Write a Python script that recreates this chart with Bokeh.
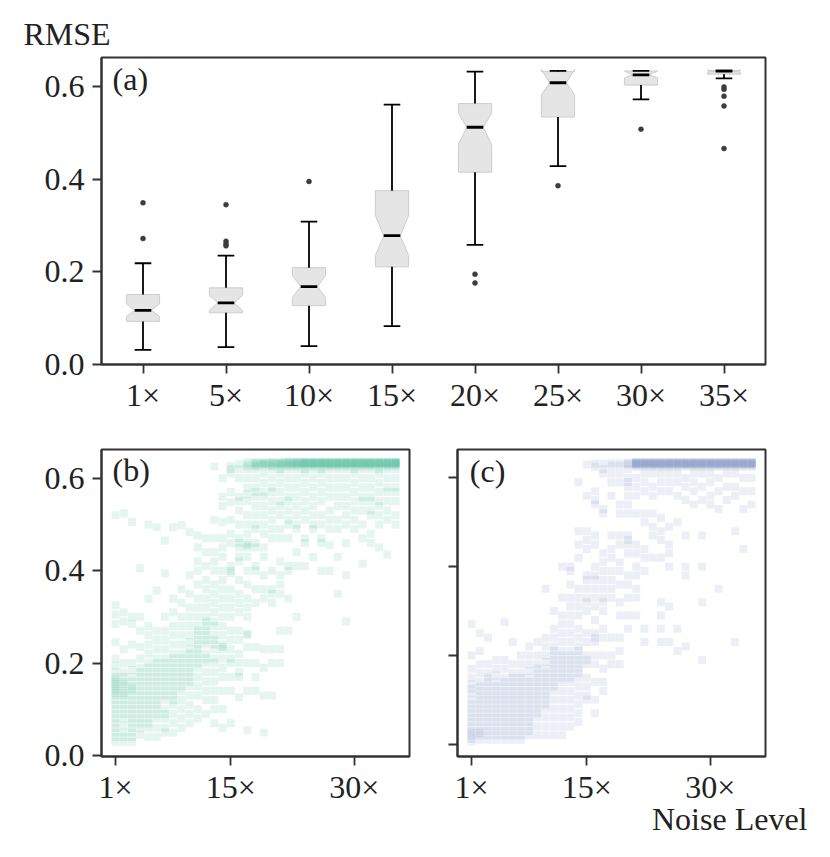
from bokeh.plotting import figure
from bokeh.models import Range1d, FixedTicker, Label, Title, PrintfTickFormatter
from bokeh.layouts import column, row
from bokeh.embed import file_html
from bokeh.resources import INLINE

FONT = "Liberation Serif"
FSIZE = "32px"
INK = "#222222"
SPINE = "#333333"

# ---------------- panel (a): notched box plots ----------------
box_labels = ["1×", "5×", "10×", "15×", "20×", "25×", "30×", "35×"]
box_q1 = [0.093, 0.1115, 0.127, 0.2107, 0.415, 0.534, 0.603, 0.6265]
box_med = [0.117, 0.133, 0.168, 0.278, 0.512, 0.608, 0.625, 0.633]
box_q3 = [0.151, 0.1654, 0.209, 0.375, 0.563, 0.632, 0.6335, 0.634]
box_notch_lo = [0.1035, 0.116, 0.145, 0.235, 0.4745, 0.582, 0.6185, 0.631]
box_notch_hi = [0.131, 0.149, 0.192, 0.321, 0.542, 0.637, 0.6335, 0.635]
whisk_lo = [0.0316, 0.0374, 0.0395, 0.0826, 0.258, 0.428, 0.572, 0.6176]
whisk_hi = [0.2185, 0.235, 0.3085, 0.561, 0.632, 0.6335, 0.6335, 0.634]
outlier_box = [0, 0, 1, 1, 1, 1, 2, 4, 4, 5, 6, 7, 7, 7, 7, 7]
outlier_val = [0.349, 0.272, 0.345, 0.266, 0.260, 0.256, 0.395, 0.195, 0.176,
               0.386, 0.5076, 0.599, 0.594, 0.579, 0.558, 0.466]

# ---------------- panels (b), (c): RMSE per noise level ----------------
noise_levels = list(range(1, 36))
bottom_tick_levels = [1, 15, 30]
bottom_tick_labels = ["1×", "15×", "30×"]
rmse_ticks = [0.0, 0.2, 0.4, 0.6]

b_rmse = [
    [0.52, 0.325, 0.305, 0.285, 0.245, 0.21, 0.195, 0.18, 0.17, 0.165, 0.16, 0.155, 0.15, 0.145, 0.14, 0.135, 0.13, 0.12, 0.11, 0.10, 0.09, 0.08, 0.07, 0.06, 0.05, 0.04, 0.03],
    [0.524, 0.31, 0.29, 0.23, 0.2, 0.18, 0.17, 0.16, 0.155, 0.15, 0.14, 0.135, 0.13, 0.12, 0.11, 0.1, 0.09, 0.08, 0.065, 0.05, 0.04, 0.03],
    [0.505, 0.3, 0.285, 0.24, 0.2, 0.185, 0.17, 0.16, 0.15, 0.145, 0.14, 0.13, 0.12, 0.11, 0.1, 0.09, 0.08, 0.07, 0.06, 0.05, 0.04, 0.03],
    [0.405, 0.3, 0.27, 0.235, 0.21, 0.19, 0.18, 0.17, 0.16, 0.15, 0.14, 0.13, 0.12, 0.11, 0.1, 0.09, 0.08, 0.07, 0.06, 0.045],
    [0.50, 0.339, 0.28, 0.26, 0.24, 0.22, 0.2, 0.19, 0.18, 0.17, 0.16, 0.15, 0.14, 0.13, 0.12, 0.11, 0.1, 0.09, 0.08, 0.07, 0.06, 0.04],
    [0.494, 0.357, 0.27, 0.25, 0.23, 0.21, 0.2, 0.19, 0.18, 0.17, 0.16, 0.15, 0.14, 0.13, 0.12, 0.11, 0.1, 0.09, 0.08, 0.06, 0.04],
    [0.465, 0.394, 0.3, 0.27, 0.25, 0.23, 0.21, 0.2, 0.19, 0.18, 0.17, 0.16, 0.15, 0.14, 0.13, 0.12, 0.1, 0.09, 0.08, 0.06, 0.05],
    [0.494, 0.34, 0.31, 0.28, 0.26, 0.24, 0.22, 0.21, 0.2, 0.19, 0.18, 0.17, 0.16, 0.15, 0.14, 0.13, 0.12, 0.11, 0.09, 0.07, 0.05],
    [0.498, 0.36, 0.33, 0.3, 0.28, 0.26, 0.24, 0.22, 0.21, 0.2, 0.19, 0.18, 0.17, 0.16, 0.15, 0.14, 0.12, 0.1, 0.08, 0.06],
    [0.483, 0.39, 0.35, 0.32, 0.3, 0.28, 0.26, 0.245, 0.23, 0.22, 0.21, 0.2, 0.19, 0.18, 0.17, 0.16, 0.15, 0.13, 0.11, 0.09, 0.07],
    [0.476, 0.45, 0.42, 0.4, 0.37, 0.34, 0.32, 0.3, 0.28, 0.27, 0.26, 0.25, 0.24, 0.23, 0.22, 0.21, 0.2, 0.19, 0.17, 0.15, 0.13, 0.1, 0.08],
    [0.47, 0.44, 0.41, 0.38, 0.36, 0.34, 0.32, 0.3, 0.29, 0.28, 0.27, 0.26, 0.25, 0.24, 0.22, 0.21, 0.2, 0.18, 0.16, 0.14, 0.12, 0.09],
    [0.625, 0.51, 0.47, 0.44, 0.42, 0.4, 0.37, 0.35, 0.33, 0.31, 0.29, 0.28, 0.26, 0.25, 0.24, 0.23, 0.21, 0.2, 0.18, 0.16, 0.14, 0.12, 0.1, 0.07],
    [0.6, 0.56, 0.54, 0.505, 0.47, 0.45, 0.43, 0.4, 0.38, 0.36, 0.34, 0.32, 0.3, 0.28, 0.26, 0.24, 0.235, 0.23, 0.21, 0.19, 0.17, 0.14, 0.1, 0.06],
    [0.626, 0.62, 0.61, 0.57, 0.548, 0.51, 0.48, 0.46, 0.41, 0.4, 0.395, 0.36, 0.34, 0.32, 0.3, 0.27, 0.25, 0.23, 0.21, 0.2, 0.17, 0.14, 0.07],
    [0.63, 0.62, 0.6, 0.56, 0.55, 0.53, 0.5, 0.47, 0.46, 0.45, 0.43, 0.42, 0.38, 0.35, 0.33, 0.31, 0.27, 0.25, 0.22, 0.2, 0.18, 0.17, 0.126],
    [0.635, 0.63, 0.625, 0.62, 0.6, 0.58, 0.565, 0.55, 0.52, 0.5, 0.48, 0.46, 0.455, 0.45, 0.43, 0.4, 0.37, 0.34, 0.32, 0.3, 0.264, 0.26, 0.235, 0.2, 0.14, 0.055],
    [0.635, 0.633, 0.632, 0.63, 0.628, 0.625, 0.62, 0.6, 0.58, 0.57, 0.56, 0.54, 0.52, 0.5, 0.49, 0.46, 0.45, 0.41, 0.4, 0.36, 0.33, 0.235, 0.2, 0.17, 0.14],
    [0.635, 0.633, 0.632, 0.631, 0.63, 0.628, 0.625, 0.61, 0.59, 0.57, 0.56, 0.54, 0.52, 0.5, 0.48, 0.45, 0.43, 0.39, 0.36, 0.34, 0.23, 0.19, 0.13, 0.05],
    [0.635, 0.634, 0.633, 0.632, 0.63, 0.628, 0.625, 0.62, 0.6, 0.58, 0.57, 0.55, 0.53, 0.51, 0.49, 0.47, 0.4, 0.36, 0.35, 0.33, 0.23, 0.2, 0.13],
    [0.635, 0.634, 0.633, 0.632, 0.631, 0.63, 0.628, 0.625, 0.62, 0.61, 0.59, 0.57, 0.55, 0.54, 0.52, 0.49, 0.47, 0.42, 0.39, 0.37, 0.35, 0.27, 0.23, 0.2],
    [0.636, 0.635, 0.634, 0.633, 0.632, 0.631, 0.63, 0.628, 0.625, 0.62, 0.6, 0.58, 0.56, 0.55, 0.53, 0.51, 0.5, 0.47, 0.41, 0.4, 0.34, 0.27],
    [0.636, 0.635, 0.634, 0.633, 0.633, 0.632, 0.631, 0.63, 0.628, 0.625, 0.62, 0.6, 0.58, 0.56, 0.54, 0.52, 0.5, 0.49, 0.44, 0.41, 0.3],
    [0.636, 0.635, 0.634, 0.634, 0.633, 0.633, 0.632, 0.632, 0.631, 0.63, 0.628, 0.625, 0.62, 0.61, 0.59, 0.57, 0.55, 0.53, 0.51, 0.47, 0.46, 0.41],
    [0.636, 0.635, 0.634, 0.634, 0.633, 0.633, 0.632, 0.632, 0.631, 0.63, 0.628, 0.625, 0.62, 0.6, 0.58, 0.56, 0.54, 0.52, 0.5, 0.49, 0.43],
    [0.636, 0.635, 0.634, 0.634, 0.633, 0.633, 0.632, 0.632, 0.631, 0.63, 0.628, 0.625, 0.62, 0.61, 0.59, 0.57, 0.55, 0.52, 0.5, 0.47, 0.46, 0.4],
    [0.636, 0.635, 0.634, 0.634, 0.633, 0.633, 0.632, 0.632, 0.631, 0.63, 0.628, 0.625, 0.62, 0.6, 0.58, 0.56, 0.53, 0.51, 0.49, 0.455, 0.4],
    [0.636, 0.635, 0.634, 0.634, 0.633, 0.633, 0.632, 0.632, 0.631, 0.63, 0.628, 0.625, 0.62, 0.6, 0.58, 0.56, 0.54, 0.51, 0.49, 0.43, 0.35],
    [0.636, 0.635, 0.634, 0.634, 0.633, 0.633, 0.632, 0.632, 0.631, 0.63, 0.628, 0.625, 0.62, 0.6, 0.58, 0.56, 0.54, 0.52, 0.5, 0.46, 0.39, 0.29],
    [0.636, 0.635, 0.634, 0.634, 0.633, 0.633, 0.632, 0.632, 0.631, 0.63, 0.628, 0.625, 0.62, 0.61, 0.59, 0.57, 0.55, 0.53, 0.51, 0.49],
    [0.636, 0.635, 0.634, 0.634, 0.633, 0.633, 0.632, 0.632, 0.631, 0.63, 0.628, 0.625, 0.62, 0.6, 0.58, 0.56, 0.55, 0.53, 0.5, 0.47, 0.415],
    [0.636, 0.635, 0.634, 0.634, 0.633, 0.633, 0.632, 0.632, 0.631, 0.63, 0.628, 0.625, 0.62, 0.6, 0.58, 0.56, 0.55, 0.53, 0.52, 0.48, 0.46],
    [0.636, 0.635, 0.634, 0.634, 0.633, 0.633, 0.632, 0.632, 0.631, 0.63, 0.628, 0.625, 0.62, 0.61, 0.59, 0.57, 0.55, 0.54, 0.52, 0.5, 0.45],
    [0.636, 0.635, 0.634, 0.634, 0.633, 0.633, 0.632, 0.632, 0.631, 0.63, 0.628, 0.625, 0.62, 0.6, 0.58, 0.57, 0.55, 0.53, 0.51, 0.435],
    [0.636, 0.635, 0.634, 0.634, 0.633, 0.633, 0.632, 0.632, 0.631, 0.63, 0.628, 0.625, 0.62, 0.6, 0.58, 0.57, 0.55, 0.52, 0.5],
]

c_rmse = [
    [0.27, 0.2, 0.17, 0.15, 0.135, 0.125, 0.115, 0.1, 0.09, 0.08, 0.07, 0.06, 0.05, 0.04, 0.03, 0.025, 0.02, 0.012, 0.006],
    [0.25, 0.21, 0.18, 0.16, 0.14, 0.13, 0.12, 0.11, 0.1, 0.09, 0.08, 0.07, 0.06, 0.05, 0.04, 0.03, 0.025, 0.02, 0.01],
    [0.24, 0.18, 0.16, 0.15, 0.14, 0.13, 0.12, 0.11, 0.1, 0.09, 0.08, 0.07, 0.06, 0.05, 0.04, 0.03, 0.02, 0.01],
    [0.19, 0.17, 0.155, 0.14, 0.13, 0.12, 0.11, 0.1, 0.09, 0.08, 0.07, 0.06, 0.05, 0.04, 0.03, 0.02, 0.01],
    [0.275, 0.19, 0.17, 0.15, 0.14, 0.13, 0.12, 0.11, 0.1, 0.09, 0.08, 0.07, 0.06, 0.05, 0.04, 0.03, 0.02, 0.01],
    [0.23, 0.18, 0.16, 0.15, 0.14, 0.13, 0.12, 0.11, 0.1, 0.09, 0.08, 0.07, 0.06, 0.05, 0.04, 0.03, 0.02, 0.01],
    [0.2, 0.18, 0.16, 0.15, 0.14, 0.13, 0.12, 0.11, 0.1, 0.09, 0.08, 0.07, 0.06, 0.05, 0.04, 0.03, 0.02, 0.01],
    [0.22, 0.2, 0.18, 0.165, 0.15, 0.14, 0.13, 0.12, 0.11, 0.1, 0.09, 0.08, 0.07, 0.06, 0.05, 0.04, 0.03, 0.02],
    [0.23, 0.2, 0.18, 0.17, 0.16, 0.15, 0.14, 0.13, 0.12, 0.11, 0.1, 0.09, 0.08, 0.07, 0.06, 0.04, 0.02],
    [0.35, 0.24, 0.22, 0.2, 0.185, 0.17, 0.16, 0.15, 0.14, 0.13, 0.12, 0.11, 0.1, 0.09, 0.08, 0.06, 0.04, 0.02],
    [0.3, 0.26, 0.24, 0.22, 0.21, 0.2, 0.19, 0.18, 0.17, 0.16, 0.15, 0.14, 0.13, 0.12, 0.1, 0.08, 0.06, 0.04, 0.02],
    [0.4, 0.33, 0.29, 0.27, 0.25, 0.23, 0.21, 0.2, 0.19, 0.18, 0.17, 0.16, 0.15, 0.14, 0.12, 0.1, 0.08, 0.06, 0.04, 0.02],
    [0.4, 0.39, 0.36, 0.33, 0.31, 0.29, 0.27, 0.25, 0.23, 0.21, 0.2, 0.19, 0.18, 0.17, 0.16, 0.15, 0.14, 0.12, 0.1, 0.08, 0.06, 0.04],
    [0.59, 0.48, 0.45, 0.42, 0.35, 0.33, 0.31, 0.29, 0.26, 0.24, 0.22, 0.21, 0.2, 0.19, 0.18, 0.17, 0.16, 0.15, 0.13, 0.11, 0.09, 0.07, 0.05],
    [0.63, 0.56, 0.48, 0.46, 0.44, 0.38, 0.37, 0.35, 0.33, 0.32, 0.3, 0.25, 0.23, 0.2, 0.19, 0.18, 0.15, 0.13, 0.11, 0.1],
    [0.632, 0.625, 0.57, 0.55, 0.54, 0.47, 0.45, 0.4, 0.38, 0.37, 0.35, 0.33, 0.31, 0.28, 0.25, 0.24, 0.23, 0.2, 0.18, 0.14, 0.1, 0.07],
    [0.632, 0.62, 0.61, 0.53, 0.52, 0.43, 0.41, 0.39, 0.37, 0.35, 0.33, 0.32, 0.3, 0.26, 0.24, 0.2, 0.17, 0.14, 0.12],
    [0.633, 0.628, 0.61, 0.59, 0.56, 0.47, 0.44, 0.42, 0.39, 0.37, 0.35, 0.33, 0.24, 0.2, 0.18],
    [0.633, 0.628, 0.61, 0.59, 0.54, 0.52, 0.47, 0.45, 0.41, 0.39, 0.36, 0.32, 0.29, 0.24, 0.21, 0.18],
    [0.634, 0.632, 0.63, 0.62, 0.6, 0.59, 0.58, 0.56, 0.54, 0.52, 0.47, 0.46, 0.45, 0.43, 0.38, 0.36, 0.33, 0.29, 0.26],
    [0.636, 0.635, 0.634, 0.634, 0.633, 0.633, 0.632, 0.632, 0.631, 0.63, 0.628, 0.625, 0.6, 0.58, 0.56, 0.52, 0.45, 0.43, 0.4, 0.38, 0.35, 0.33, 0.29],
    [0.636, 0.635, 0.634, 0.634, 0.633, 0.633, 0.632, 0.632, 0.631, 0.63, 0.628, 0.625, 0.61, 0.59, 0.57, 0.52, 0.5, 0.44, 0.42, 0.39, 0.26, 0.23],
    [0.636, 0.635, 0.634, 0.634, 0.633, 0.633, 0.632, 0.632, 0.631, 0.63, 0.628, 0.625, 0.61, 0.58, 0.56, 0.52, 0.49, 0.47, 0.42],
    [0.636, 0.635, 0.634, 0.634, 0.633, 0.633, 0.632, 0.632, 0.631, 0.63, 0.628, 0.625, 0.61, 0.59, 0.57, 0.51, 0.48, 0.46, 0.42, 0.32, 0.29, 0.26, 0.23],
    [0.636, 0.635, 0.634, 0.634, 0.633, 0.633, 0.632, 0.632, 0.631, 0.63, 0.628, 0.625, 0.61, 0.59, 0.57, 0.49, 0.45, 0.43, 0.4, 0.31, 0.23],
    [0.636, 0.635, 0.634, 0.634, 0.633, 0.633, 0.632, 0.632, 0.631, 0.63, 0.628, 0.625, 0.61, 0.59, 0.56, 0.5, 0.26, 0.21],
    [0.636, 0.635, 0.634, 0.634, 0.633, 0.633, 0.632, 0.632, 0.631, 0.63, 0.628, 0.625, 0.6, 0.58, 0.55, 0.47, 0.4, 0.38, 0.22],
    [0.636, 0.635, 0.634, 0.634, 0.633, 0.633, 0.632, 0.632, 0.631, 0.63, 0.628, 0.625, 0.61, 0.59, 0.57, 0.54],
    [0.636, 0.635, 0.634, 0.634, 0.633, 0.633, 0.632, 0.632, 0.631, 0.63, 0.628, 0.625, 0.61, 0.58, 0.55, 0.47, 0.4, 0.32, 0.19],
    [0.636, 0.635, 0.634, 0.634, 0.633, 0.633, 0.632, 0.632, 0.631, 0.63, 0.628, 0.625, 0.61, 0.59, 0.56, 0.54],
    [0.636, 0.635, 0.634, 0.634, 0.633, 0.633, 0.632, 0.632, 0.631, 0.63, 0.628, 0.625, 0.6, 0.57, 0.53, 0.35],
    [0.636, 0.635, 0.634, 0.634, 0.633, 0.633, 0.632, 0.632, 0.631, 0.63, 0.628, 0.625, 0.61, 0.58, 0.55],
    [0.636, 0.635, 0.634, 0.634, 0.633, 0.633, 0.632, 0.632, 0.631, 0.63, 0.628, 0.625, 0.61, 0.58, 0.56, 0.48, 0.23],
    [0.636, 0.635, 0.634, 0.634, 0.633, 0.633, 0.632, 0.632, 0.631, 0.63, 0.628, 0.625, 0.6, 0.57, 0.53, 0.44],
    [0.636, 0.635, 0.634, 0.634, 0.633, 0.633, 0.632, 0.632, 0.631, 0.63, 0.628, 0.625, 0.6, 0.57, 0.54],
]


def style_axis_common(ax, standoff):
    ax.axis_line_color = SPINE
    ax.axis_line_width = 2
    for pre in ("major", "minor"):
        setattr(ax, pre + "_tick_line_color", SPINE)
        setattr(ax, pre + "_tick_line_width", 1.8)
        setattr(ax, pre + "_tick_out", 9)
        setattr(ax, pre + "_tick_in", 0)
    ax.major_label_text_font = FONT
    ax.major_label_text_font_size = FSIZE
    ax.major_label_text_color = INK
    ax.major_label_standoff = standoff


def style(p, show_ylabels=True):
    p.outline_line_color = SPINE
    p.outline_line_width = 2
    p.grid.visible = False
    p.background_fill_color = "white"
    p.border_fill_color = "white"
    for ax in p.xaxis:
        style_axis_common(ax, 3)
    for ax in p.yaxis:
        style_axis_common(ax, 8)
    if show_ylabels:
        p.yaxis.ticker = FixedTicker(ticks=rmse_ticks, minor_ticks=[])
        p.yaxis.formatter = PrintfTickFormatter(format="%.1f")
    else:
        # tick marks only, without labels
        p.yaxis.ticker = FixedTicker(ticks=[], minor_ticks=rmse_ticks)


# ---------------- top figure ----------------
top = figure(frame_width=664, frame_height=307,
             x_range=Range1d(0.5, 8.5), y_range=Range1d(0, 0.6625),
             min_border_left=101, min_border_right=57, min_border_top=57, min_border_bottom=59,
             output_backend="svg", toolbar_location=None)
style(top)
pos = [i + 1 for i in range(len(box_labels))]
top.xaxis.ticker = FixedTicker(ticks=pos, minor_ticks=[])
top.xaxis.major_label_overrides = {p_: lab for p_, lab in zip(pos, box_labels)}

hw = 0.2
bx, by = [], []
for x, q1, nlo, md, nhi, q3 in zip(pos, box_q1, box_notch_lo, box_med, box_notch_hi, box_q3):
    bx.append([x - hw, x + hw, x + hw, x + hw / 2, x + hw, x + hw, x - hw, x - hw, x - hw / 2, x - hw])
    by.append([q1, q1, nlo, md, nhi, q3, q3, nhi, md, nlo])
top.patches(bx, by, fill_color="#e5e5e5", line_color="#cdcdcd", line_width=1)

top.segment(x0=pos, y0=box_q1, x1=pos, y1=whisk_lo, line_color="black", line_width=1.8)
top.segment(x0=pos, y0=box_q3, x1=pos, y1=whisk_hi, line_color="black", line_width=1.8)
cap_l = [x - hw / 2 for x in pos]
cap_r = [x + hw / 2 for x in pos]
top.segment(x0=cap_l, y0=whisk_lo, x1=cap_r, y1=whisk_lo, line_color="black", line_width=1.8)
top.segment(x0=cap_l, y0=whisk_hi, x1=cap_r, y1=whisk_hi, line_color="black", line_width=1.8)
top.segment(x0=cap_l, y0=box_med, x1=cap_r, y1=box_med, line_color="black", line_width=2.8)
top.scatter([pos[i] for i in outlier_box], outlier_val, size=5, fill_color="#3c3c3c",
            line_color="#3c3c3c", line_width=0.5)

top.add_layout(Label(x=0.633, y=0.617, text="(a)", text_font=FONT, text_font_size=FSIZE,
                     text_color=INK, text_baseline="alphabetic", text_align="left"))
top.add_layout(Title(text="RMSE", align="left", offset=-78, standoff=12, text_font=FONT,
                     text_font_size=FSIZE, text_font_style="normal", text_color=INK), "above")


# ---------------- bottom figures ----------------
def bottom_fig(ymin, ymax, left, right, show_ylabels):
    p = figure(frame_width=308, frame_height=307,
               x_range=Range1d(-0.7, 36.7), y_range=Range1d(ymin, ymax),
               min_border_left=left, min_border_right=right, min_border_top=26, min_border_bottom=96,
               output_backend="svg", toolbar_location=None)
    style(p, show_ylabels)
    p.xaxis.ticker = FixedTicker(ticks=bottom_tick_levels, minor_ticks=[])
    p.xaxis.major_label_overrides = {t: lab for t, lab in zip(bottom_tick_levels, bottom_tick_labels)}
    return p


def add_points(p, data, color):
    xs, ys = [], []
    for lvl, vals in zip(noise_levels, data):
        xs += [lvl] * len(vals)
        ys += vals
    p.scatter(xs, ys, marker="square", size=8, fill_color=color, fill_alpha=0.17, line_color=None)


pb = bottom_fig(-0.002, 0.662, 101, 12, True)
add_points(pb, b_rmse, "#66c2a5")
pb.add_layout(Label(x=0.64, y=0.617, text="(b)", text_font=FONT, text_font_size=FSIZE,
                    text_color=INK, text_baseline="alphabetic", text_align="left"))

pc = bottom_fig(-0.0277, 0.664, 36, 57, False)
add_points(pc, c_rmse, "#8da0cb")
pc.add_layout(Label(x=0.79, y=0.6165, text="(c)", text_font=FONT, text_font_size=FSIZE,
                    text_color=INK, text_baseline="alphabetic", text_align="left"))
pc.add_layout(Title(text="Noise Level", align="right", offset=-42, standoff=-17, text_font=FONT,
                    text_font_size=FSIZE, text_font_style="normal", text_color=INK), "below")

layout = column(top, row(pb, pc))
open("out.html", "w").write(file_html(layout, INLINE))
